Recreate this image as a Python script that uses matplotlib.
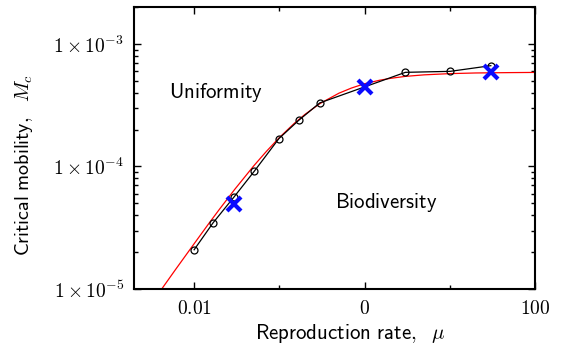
import numpy as np
import matplotlib
matplotlib.use('Agg')
from matplotlib import pyplot as plt

matplotlib.rcParams.update({'mathtext.fontset': 'cm', 'font.size': 14})

# simulation results (open circles)
mu_sim = [0.01, 0.0167, 0.0296, 0.0508, 0.099, 0.169, 0.298, 3.01, 10.1, 30.3]
Mc_sim = [2.09e-5, 3.47e-5, 5.67e-5, 9.14e-5, 1.69e-4, 2.38e-4, 3.30e-4, 5.86e-4, 5.97e-4, 6.64e-4]

# highlighted cases (blue crosses)
mu_x = [0.0296, 1.0, 30.3]
Mc_x = [4.94e-5, 4.47e-4, 5.86e-4]

# analytic curve (red)
mu_th = [0.004, 0.006, 0.01, 0.015, 0.02, 0.03, 0.05, 0.07, 0.1, 0.15, 0.2, 0.3,
         0.5, 0.7, 1, 1.5, 2, 3, 5, 10, 20, 50, 100]
Mc_th = [9.61e-6, 1.43e-5, 2.34e-5, 3.45e-5, 4.51e-5, 6.51e-5, 1.01e-4, 1.32e-4,
         1.72e-4, 2.25e-4, 2.66e-4, 3.26e-4, 3.96e-4, 4.36e-4, 4.73e-4, 5.05e-4,
         5.23e-4, 5.43e-4, 5.59e-4, 5.72e-4, 5.79e-4, 5.83e-4, 5.85e-4]

xticks = [0.01, 1, 100]
xticklabels = ['$0.01$', '$0$', '$100$']
yticks = [1e-5, 1e-4, 1e-3]
yticklabels = [r'$1\times10^{-5}$', r'$1\times10^{-4}$', r'$1\times10^{-3}$']

fig = plt.figure(figsize=(5.61, 3.45), dpi=100)
ax = fig.add_axes([134/561, 1 - 289/345, (535 - 134)/561, (289 - 7)/345])

ax.plot(mu_th, Mc_th, 'r-', lw=0.9)
ax.plot(mu_sim, Mc_sim, 'k-', lw=0.9, marker='o', ms=5, mfc='none', mew=0.9)
ax.plot(mu_x, Mc_x, 'x', color='#0a0aff', ms=10, mew=3, ls='None')

ax.set_xscale('log')
ax.set_yscale('log')
ax.set_xlim(0.00197, 100)
ax.set_ylim(1e-5, 2.0e-3)

ax.set_xticks(xticks)
ax.set_xticklabels(xticklabels)
ax.set_xticks([0.1, 10], minor=True)
ax.xaxis.set_minor_formatter(matplotlib.ticker.NullFormatter())
ax.set_yticks(yticks)
ax.set_yticklabels(yticklabels)
ax.yaxis.set_minor_locator(matplotlib.ticker.LogLocator(base=10, subs=np.arange(2, 10)))
ax.yaxis.set_minor_formatter(matplotlib.ticker.NullFormatter())

ax.tick_params(which='both', direction='in', top=True, right=True, labelsize=14, width=1)
ax.tick_params(which='major', length=5, pad=7)
ax.tick_params(which='minor', length=3)
for s in ax.spines.values():
    s.set_linewidth(1.5)

ax.set_xlabel(r'$\mathsf{Reproduction\ rate,}\ \ \mu$', fontsize=15)
ax.set_ylabel(r'$\mathsf{Critical\ mobility,}\ \ M_c$', fontsize=14.5)
ax.xaxis.set_label_coords(0.541, -0.117)
ax.yaxis.set_label_coords(-0.247, 0.44)

ax.text(0.00508, 4.05e-4, r'$\mathsf{Uniformity}$', fontsize=15, va='center')
ax.text(0.456, 5.07e-5, r'$\mathsf{Biodiversity}$', fontsize=15, va='center')

plt.savefig('out.png', dpi=100)
